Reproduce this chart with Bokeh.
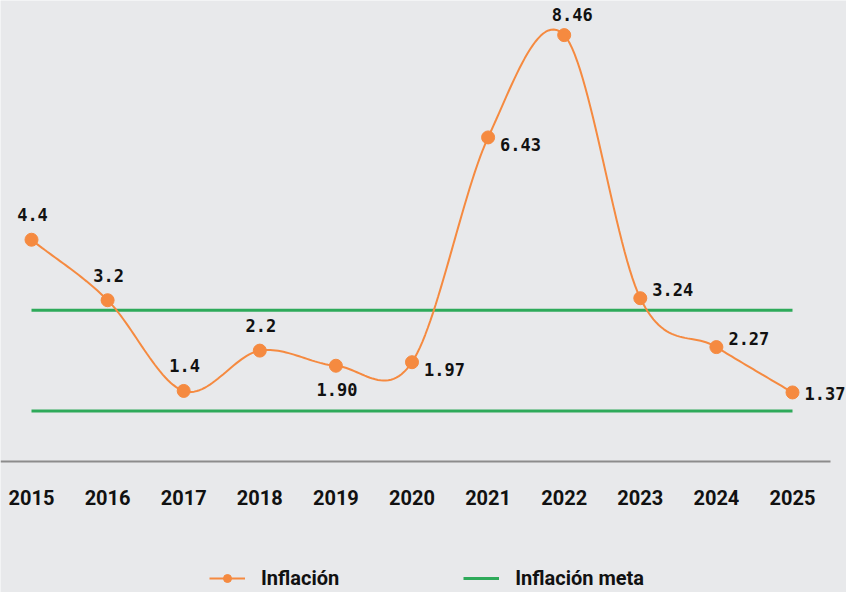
import numpy as np
from bokeh.plotting import figure
from bokeh.models import ColumnDataSource, Legend, LegendItem, FixedTicker, Range1d, LabelSet
from bokeh.core.properties import value
from bokeh.embed import file_html
from bokeh.resources import INLINE

# ---- data ----
years = [2015, 2016, 2017, 2018, 2019, 2020, 2021, 2022, 2023, 2024, 2025]
inflacion = [4.4, 3.2, 1.4, 2.2, 1.90, 1.97, 6.43, 8.46, 3.24, 2.27, 1.37]
labels = ["4.4", "3.2", "1.4", "2.2", "1.90", "1.97", "6.43", "8.46", "3.24", "2.27", "1.37"]
meta_superior = 3.0
meta_inferior = 1.0
placement = ["above", "above", "above", "above", "below", "right_down",
             "right_down", "above_right", "right_up", "right_up", "right"]

# ---- styles ----
BG = "#E8E9EB"
ORANGE = "#F58A40"
GREEN = "#2EAA5A"
TXT = "#111111"

offsets = {
    "above": (1, 25, "center"),
    "above_right": (8, 21, "center"),
    "below": (1, -24, "center"),
    "right": (12, -1, "left"),
    "right_down": (12, -7, "left"),
    "right_up": (12, 9, "left"),
}

W, H = 846, 592
PX_YEAR = 76.1
PX_UNIT = 50.4
AXIS_PX = 461   # screen position of the zero line
AXIS_END = 830  # screen x where the axis line stops

x0 = years[0] - 31 / PX_YEAR
y0 = -(H - AXIS_PX) / PX_UNIT
p = figure(width=W, height=H, output_backend="svg", toolbar_location=None,
           x_range=Range1d(x0, x0 + W / PX_YEAR), y_range=Range1d(y0, y0 + H / PX_UNIT),
           min_border_left=0, min_border_right=0, min_border_top=0, min_border_bottom=0,
           background_fill_color=BG, border_fill_color=BG, outline_line_color=None)

p.xgrid.visible = False
p.ygrid.visible = False
p.yaxis.visible = False

ax = p.xaxis[0]
ax.fixed_location = 0
ax.bounds = (x0, x0 + AXIS_END / PX_YEAR)
ax.ticker = FixedTicker(ticks=years)
ax.major_tick_line_color = None
ax.minor_tick_line_color = None
ax.axis_line_color = "#8C8C8C"
ax.axis_line_width = 2
ax.major_label_standoff = 22
ax.major_label_text_font = "Roboto"
ax.major_label_text_font_style = "bold"
ax.major_label_text_font_size = "20px"
ax.major_label_text_color = TXT

# target band lines
gx = [years[0], years[-1]]
g1 = p.line(gx, [meta_superior, meta_superior], line_color=GREEN, line_width=3)
p.line(gx, [meta_inferior, meta_inferior], line_color=GREEN, line_width=3)

# smooth (Catmull-Rom) curve through the data points
xa = np.asarray(years, float)
ya = np.asarray(inflacion, float)
m = np.gradient(ya, xa)
t = np.linspace(0, 1, 30)
h00 = 2 * t**3 - 3 * t**2 + 1
h10 = t**3 - 2 * t**2 + t
h01 = -2 * t**3 + 3 * t**2
h11 = t**3 - t**2
cx, cy = [], []
for i in range(len(xa) - 1):
    dx = xa[i + 1] - xa[i]
    cx.extend(xa[i] + t * dx)
    cy.extend(h00 * ya[i] + h10 * dx * m[i] + h01 * ya[i + 1] + h11 * dx * m[i + 1])

l1 = p.line(cx, cy, line_color=ORANGE, line_width=2)
src = ColumnDataSource(dict(x=years, y=inflacion))
s1 = p.scatter("x", "y", source=src, size=13, fill_color=ORANGE, line_color=ORANGE)

for align in ["center", "left"]:
    idx = [i for i, k in enumerate(placement) if offsets[k][2] == align]
    sub = ColumnDataSource(dict(x=[years[i] for i in idx], y=[inflacion[i] for i in idx],
                                label=[labels[i] for i in idx],
                                xo=[offsets[placement[i]][0] for i in idx],
                                yo=[offsets[placement[i]][1] for i in idx]))
    ls = LabelSet(x="x", y="y", text="label", source=sub, x_offset="xo", y_offset="yo",
                  text_align=align, text_baseline="middle",
                  text_font=value("DejaVu Sans Mono"),
                  text_font_style=value("bold"), text_font_size=value("17px"),
                  text_color=value(TXT))
    p.add_layout(ls)

legend = Legend(items=[LegendItem(label="Inflación", renderers=[l1, s1]),
                       LegendItem(label="Inflación meta", renderers=[g1])],
                orientation="horizontal", location=(209, 2),
                glyph_width=36, glyph_height=20, label_standoff=16, spacing=124,
                label_text_font="Roboto", label_text_font_style="bold",
                label_text_font_size="20px", label_text_color=TXT,
                border_line_color=None, background_fill_alpha=0,
                padding=0, margin=0, label_height=20)
p.add_layout(legend, "center")

open("out.html", "w").write(file_html(p, INLINE))
